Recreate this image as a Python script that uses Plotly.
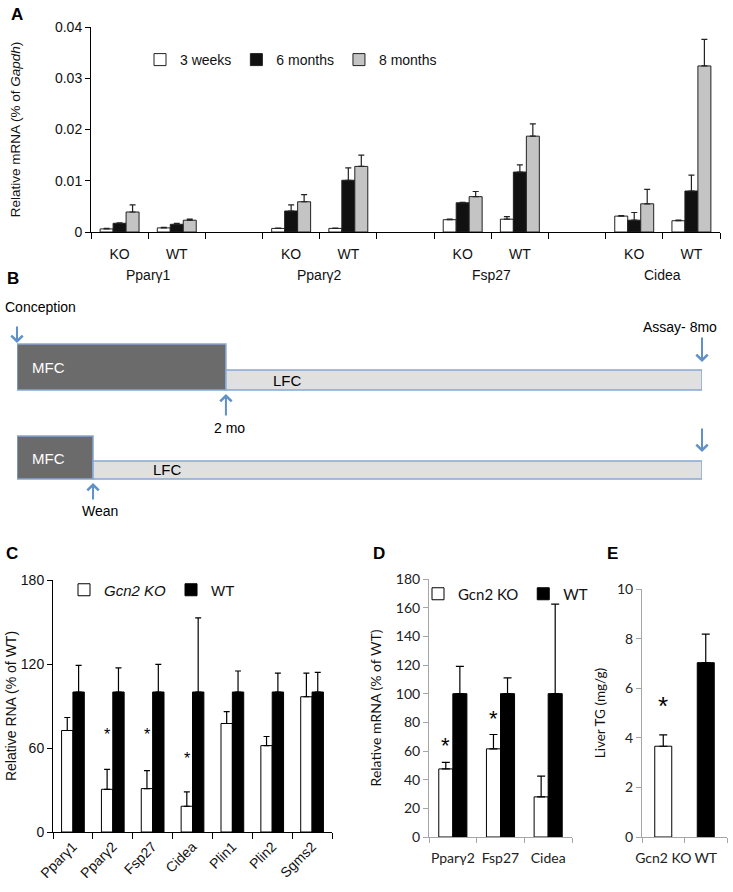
import plotly.graph_objects as go

W, H = 733, 892


def px(x):
    return x / W


def py(y):
    return 1 - y / H


ARIAL = "Liberation Sans, Arial, sans-serif"
CAL = "Lato, Carlito, Calibri, sans-serif"
ARROW = "#5e90c9"

# ---------------- Panel A data ----------------
genes_A = ["Pparγ1", "Pparγ2", "Fsp27", "Cidea"]
genotypes_A = ["KO", "WT"]
age_labels = ["3 weeks", "6 months", "8 months"]
a_3wk = [0.0006, 0.0008, 0.0007, 0.0007, 0.0024, 0.0025, 0.0031, 0.0022]
a_3wk_err = [0.0001, 0.0001, 0.00005, 0.00005, 0.0001, 0.0005, 0.0001, 0.0001]
a_6mo = [0.0017, 0.0015, 0.0041, 0.0101, 0.0057, 0.0117, 0.0023, 0.0080]
a_6mo_err = [0.0001, 0.0002, 0.0012, 0.0024, 0.0001, 0.0014, 0.0015, 0.0031]
a_8mo = [0.0039, 0.0023, 0.0059, 0.0128, 0.0069, 0.0187, 0.0055, 0.0324]
a_8mo_err = [0.0014, 0.0002, 0.0014, 0.0022, 0.0010, 0.0024, 0.0028, 0.0052]
a_ticks = [0, 0.01, 0.02, 0.03, 0.04]

# ---------------- Panel B (schematic) ----------------
b_rows = ["Protocol 1", "Protocol 1", "Protocol 2", "Protocol 2"]
b_phase = ["MFC", "LFC", "MFC", "LFC"]
b_start = [0, 30.5, 0, 11.1]
b_end = [30.5, 100, 11.1, 100]

# ---------------- Panel C data ----------------
genes_C = ["Pparγ1", "Pparγ2", "Fsp27", "Cidea", "Plin1", "Plin2", "Sgms2"]
c_ko = [72.5, 30.5, 31.0, 18.4, 77.5, 61.7, 96.6]
c_ko_err = [9.3, 14.3, 12.9, 10.2, 8.5, 6.5, 16.9]
c_wt = [100, 100, 100, 100, 100, 100, 100]
c_wt_err = [19.0, 17.3, 19.7, 53.0, 15.0, 13.5, 14.0]
c_sig = [None, 70, 70, 52.5, None, None, None]

# ---------------- Panel D data ----------------
genes_D = ["Pparγ2", "Fsp27", "Cidea"]
d_ko = [47.5, 61.5, 28.0]
d_ko_err = [4.5, 10.0, 14.5]
d_wt = [100, 100, 100]
d_wt_err = [19.0, 11.0, 62.5]
d_sig = [63.5, 83.0, None]

# ---------------- Panel E data ----------------
groups_E = ["Gcn2 KO", "WT"]
e_vals = [3.66, 7.03]
e_err = [0.46, 1.15]
e_sig = [5.3, None]

fig = go.Figure()

# ---- Panel A ----
catA, tickA = [], []
for i, g in enumerate(genes_A):
    for gt in genotypes_A:
        catA.append(f"{g} {gt}")
        tickA.append(gt)
    if i < len(genes_A) - 1:
        catA.append(f"{g} gap")
        tickA.append("")
xA = [f"{g} {gt}" for g in genes_A for gt in genotypes_A]

a_series = [(a_3wk, a_3wk_err, "white"), (a_6mo, a_6mo_err, "#111111"), (a_8mo, a_8mo_err, "#c4c4c4")]
a_w = 0.227
for k, (vals, errs, col) in enumerate(a_series):
    fig.add_trace(go.Bar(
        x=xA, y=vals, name=age_labels[k], xaxis="x", yaxis="y",
        width=a_w, offset=-1.5 * a_w + k * a_w,
        marker=dict(color=col, line=dict(color="#222222", width=1)),
        error_y=dict(type="data", array=errs, arrayminus=[0] * len(errs), symmetric=False,
                     color="#222222", thickness=1.2, width=3),
        legend="legend", showlegend=True))

# ---- Panel B ----
fig.add_trace(go.Bar(
    y=b_rows, x=[e - s for s, e in zip(b_start, b_end)], base=b_start, orientation="h",
    xaxis="x5", yaxis="y5", showlegend=False,
    width=[0.517, 0.225, 0.483, 0.202], offset=[-0.517, -0.225, -0.483, -0.202],
    marker=dict(color=["#6b6b6b" if p == "MFC" else "#e0e0e0" for p in b_phase],
                line=dict(color="#86a8d4", width=1.5)),
    hoverinfo="skip"))

# ---- Panel C ----
c_w = 0.285
fig.add_trace(go.Bar(
    x=genes_C, y=c_ko, name="<i>Gcn2 KO</i>", xaxis="x3", yaxis="y3",
    width=c_w, offset=-c_w,
    marker=dict(color="white", line=dict(color="black", width=1)),
    error_y=dict(type="data", array=c_ko_err, arrayminus=[0] * 7, symmetric=False,
                 color="black", thickness=1.2, width=3),
    legend="legend2"))
fig.add_trace(go.Bar(
    x=genes_C, y=c_wt, name="WT", xaxis="x3", yaxis="y3",
    width=c_w, offset=0,
    marker=dict(color="black", line=dict(color="black", width=1)),
    error_y=dict(type="data", array=c_wt_err, arrayminus=[0] * 7, symmetric=False,
                 color="black", thickness=1.2, width=3),
    legend="legend2"))

# ---- Panel D ----
d_w = 0.295
fig.add_trace(go.Bar(
    x=genes_D, y=d_ko, name="Gcn2 KO", xaxis="x4", yaxis="y4",
    width=d_w, offset=-d_w,
    marker=dict(color="white", line=dict(color="black", width=1)),
    error_y=dict(type="data", array=d_ko_err, arrayminus=[0] * 3, symmetric=False,
                 color="black", thickness=1.2, width=4),
    legend="legend3"))
fig.add_trace(go.Bar(
    x=genes_D, y=d_wt, name="WT", xaxis="x4", yaxis="y4",
    width=d_w, offset=0,
    marker=dict(color="black", line=dict(color="black", width=1)),
    error_y=dict(type="data", array=d_wt_err, arrayminus=[0] * 3, symmetric=False,
                 color="black", thickness=1.2, width=4),
    legend="legend3"))

# ---- Panel E ----
fig.add_trace(go.Bar(
    x=groups_E, y=e_vals, xaxis="x6", yaxis="y6", showlegend=False,
    width=0.4, offset=-0.2,
    marker=dict(color=["white", "black"], line=dict(color="black", width=1)),
    error_y=dict(type="data", array=e_err, arrayminus=[0, 0], symmetric=False,
                 color="black", thickness=1.2, width=4)))

ann = []
# gene labels panel A
for i, g in enumerate(genes_A):
    ann.append(dict(x=3 * i + 0.5, y=py(275), xref="x", yref="paper", text=g, showarrow=False,
                    xanchor="center", yanchor="middle",
                    font=dict(family=ARIAL, size=14, color="#111")))
# significance stars
for g, s in zip(genes_C, c_sig):
    if s is not None:
        ann.append(dict(x=g, y=s, xref="x3", yref="y3", text="*", showarrow=False, xshift=-6,
                        xanchor="center", yanchor="middle",
                        font=dict(family=ARIAL, size=16, color="black")))
for g, s in zip(genes_D, d_sig):
    if s is not None:
        ann.append(dict(x=g, y=s, xref="x4", yref="y4", text="*", showarrow=False, xshift=-7,
                        xanchor="center", yanchor="middle",
                        font=dict(family=ARIAL, size=22, color="black")))
for g, s in zip(groups_E, e_sig):
    if s is not None:
        ann.append(dict(x=g, y=s, xref="x6", yref="y6", text="*", showarrow=False,
                        xanchor="center", yanchor="middle",
                        font=dict(family=ARIAL, size=26, color="black")))

# panel letters
for t, (x, y) in {"A": (17, 14), "B": (13, 279), "C": (12, 553), "D": (379, 553), "E": (612, 553)}.items():
    ann.append(dict(x=px(x), y=py(y), xref="paper", yref="paper", text=f"<b>{t}</b>",
                    showarrow=False, xanchor="center", yanchor="middle",
                    font=dict(family=ARIAL, size=17, color="black")))

# panel B text
btxt = [("Conception", 3, 307, "left", "black", 14),
        ("Assay- 8mo", 680, 327, "center", "black", 14),
        ("2 mo", 229, 428, "center", "black", 14),
        ("Wean", 100, 511, "center", "black", 14),
        ("MFC", 30, 367, "left", "white", 15),
        ("LFC", 271, 380, "left", "black", 15),
        ("MFC", 30, 458, "left", "white", 15),
        ("LFC", 151, 470, "left", "black", 15)]
for t, x, y, xa, c, s in btxt:
    ann.append(dict(x=px(x), y=py(y), xref="paper", yref="paper", text=t, showarrow=False,
                    xanchor=xa, yanchor="middle", font=dict(family=ARIAL, size=s, color=c)))


# panel B arrows (tips at phase boundaries)
def yb(pix):
    return (pix - 390) / 89


arrows = [(b_start[0], yb(343), -18), (b_end[0], yb(394), 23), (b_end[1], yb(362), -26),
          (b_end[2], yb(483), 18), (b_end[3], yb(452), -25)]
for x, y, ay in arrows:
    ann.append(dict(x=x, y=y, xref="x5", yref="y5", ax=0, ay=ay, text="", showarrow=True,
                    arrowhead=4, arrowsize=1.1, arrowwidth=2, arrowcolor=ARROW))

axis_black = dict(showline=True, linecolor="black", linewidth=1, ticks="outside", tickcolor="black",
                  showgrid=False, zeroline=False, fixedrange=True, automargin=False)
axis_gray = dict(showline=True, linecolor="#a6a6a6", linewidth=1, ticks="outside", tickcolor="#a6a6a6",
                 showgrid=False, zeroline=False, fixedrange=True, automargin=False)

fig.update_layout(
    template="none",
    width=W, height=H, autosize=False, margin=dict(l=0, r=0, t=0, b=0, pad=0),
    paper_bgcolor="white", plot_bgcolor="white",
    font=dict(family=ARIAL, size=14, color="#111"),
    annotations=ann,
    xaxis=dict(**axis_black, domain=[px(91), px(720)], anchor="y", type="category",
               categoryorder="array", categoryarray=catA, tickvals=catA, ticktext=tickA,
               tickson="boundaries", ticklen=6, range=[-0.5, len(catA) - 0.5],
               tickfont=dict(size=14), ticklabelstandoff=9),
    yaxis=dict(**axis_black, domain=[py(232), py(27)], anchor="x", range=[0, 0.04],
               tickvals=a_ticks, ticklen=5, tickfont=dict(size=14),
               title=dict(text="Relative mRNA (% of <i>Gapdh</i>)", font=dict(size=13.5), standoff=31)),
    xaxis5=dict(domain=[px(17), px(702)], anchor="y5", range=[0, 100], visible=False, fixedrange=True),
    yaxis5=dict(domain=[py(520), py(300)], anchor="x5", type="category",
                range=[yb(520), yb(300)], visible=False, fixedrange=True),
    xaxis3=dict(**axis_black, domain=[px(53), px(332)], anchor="y3", type="category",
                tickson="boundaries", ticklen=6, tickangle=-45, tickfont=dict(size=14),
                range=[-0.5, 6.5]),
    yaxis3=dict(**axis_black, domain=[py(832), py(580)], anchor="x3", range=[0, 180], dtick=60,
                ticklen=5, tickfont=dict(size=14),
                title=dict(text="Relative RNA (% of WT)", font=dict(size=14), standoff=0)),
    xaxis4=dict(**axis_gray, domain=[px(429), px(572)], anchor="y4", type="category",
                tickson="boundaries", ticklen=5, tickangle=0,
                tickfont=dict(family=CAL, size=14, color="#222"),
                range=[-0.5, 2.5], ticklabelstandoff=8),
    yaxis4=dict(**axis_gray, domain=[py(837), py(579)], anchor="x4", range=[0, 180], dtick=20,
                ticklen=5, tickfont=dict(family=CAL, size=14, color="#222"),
                title=dict(text="Relative mRNA (% of WT)", font=dict(family=CAL, size=14, color="#111"),
                           standoff=10)),
    xaxis6=dict(**axis_gray, domain=[px(642), px(727)], anchor="y6", type="category",
                tickson="boundaries", ticklen=5, tickangle=0,
                tickfont=dict(family=CAL, size=14, color="#222"),
                range=[-0.5, 1.5], ticklabelstandoff=8),
    yaxis6=dict(**axis_gray, domain=[py(837), py(589)], anchor="x6", range=[0, 10], dtick=2,
                ticklen=5, tickfont=dict(family=CAL, size=14, color="#222"),
                title=dict(text="Liver TG (mg/g)", font=dict(family=CAL, size=13.5, color="#111"),
                           standoff=8)),
    legend=dict(orientation="h", x=px(140), y=py(60), xanchor="left", yanchor="middle",
                bgcolor="rgba(0,0,0,0)", font=dict(family=ARIAL, size=14), itemwidth=30,
                tracegroupgap=0),
    legend2=dict(orientation="h", x=px(64), y=py(590), xanchor="left", yanchor="middle",
                 bgcolor="rgba(0,0,0,0)", font=dict(family=ARIAL, size=15), itemwidth=30),
    legend3=dict(orientation="h", x=px(418), y=py(594), xanchor="left", yanchor="middle",
                 bgcolor="rgba(0,0,0,0)", font=dict(family=CAL, size=15), itemwidth=30),
)

fig.write_html("out.html", config={"displayModeBar": False},
               post_script="document.body.style.margin='0px';")
